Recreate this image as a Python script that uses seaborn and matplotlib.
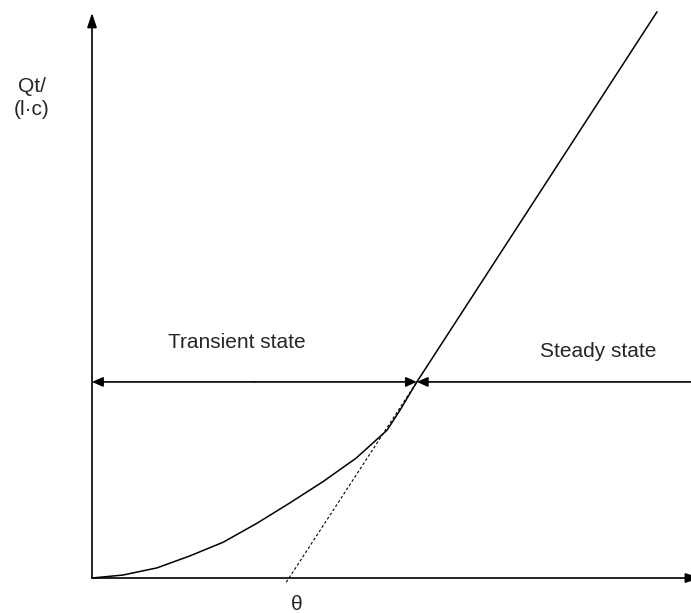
import matplotlib
matplotlib.use("Agg")
import matplotlib.pyplot as plt
import seaborn as sns
import pandas as pd

sns.set_theme(style="white")
plt.rcParams["font.family"] = ["Liberation Sans", "DejaVu Sans"]

# Cumulative permeated amount Qt/(l·c) versus time (time-lag method)
time_transient = [0, 0.52, 1.09, 1.64, 2.20, 2.77, 3.32, 3.88, 4.43, 4.95, 5.17, 5.45]
q_transient = [0, 0.05, 0.17, 0.37, 0.60, 0.92, 1.26, 1.62, 2.01, 2.48, 2.82, 3.29]

time_steady = [5.45, 9.48]
q_steady = [3.29, 9.50]

# Extrapolated steady-state asymptote crossing the time axis at the lag θ
time_tangent = [3.26, 5.45]
q_tangent = [-0.07, 3.29]

boundary_q = 3.29      # level separating transient and steady regimes
boundary_t = 5.45

labels = {"transient": "Transient state", "steady": "Steady state",
          "ylabel": "Qt/\n(l·c)", "lag": "θ"}

fig = plt.figure(figsize=(6.91, 6.13), dpi=100)
ax = fig.add_axes([0, 0, 1, 1])
ax.set_xlim(-1.5436, 10.050)
ax.set_ylim(-0.587, 9.698)
ax.axis("off")

df_tr = pd.DataFrame({"t": time_transient, "q": q_transient})
df_st = pd.DataFrame({"t": time_steady, "q": q_steady})
df_tg = pd.DataFrame({"t": time_tangent, "q": q_tangent})

sns.lineplot(data=df_tr, x="t", y="q", sort=False, color="black", lw=1.1, ax=ax)
sns.lineplot(data=df_st, x="t", y="q", sort=False, color="black", lw=1.1, ax=ax)
sns.lineplot(data=df_tg, x="t", y="q", sort=False, color="black", lw=0.8,
             linestyle=(0, (2.5, 2)), ax=ax)

big_head = "-|>,head_length=0.86,head_width=0.29"
small_head = "-|>,head_length=0.65,head_width=0.29"

def arrow(xy_from, xy_to, style, lw=1.2):
    ax.annotate("", xy=xy_to, xytext=xy_from, annotation_clip=False,
                arrowprops=dict(arrowstyle=style, mutation_scale=10, lw=lw,
                                color="black", shrinkA=0, shrinkB=0))

# axes with arrow heads
arrow((0, 0), (0, 9.48), big_head)
arrow((0, 0), (10.2, 0), big_head)

# regime boundary arrows
mid = boundary_t / 2
arrow((mid, boundary_q), (0, boundary_q), small_head)
arrow((mid, boundary_q), (boundary_t, boundary_q), small_head)
arrow((10.3, boundary_q), (boundary_t, boundary_q), small_head)

fs = 15
ax.text(2.43, 3.86, labels["transient"], ha="center", va="baseline", fontsize=fs)
ax.text(8.49, 3.71, labels["steady"], ha="center", va="baseline", fontsize=fs)
ax.text(-1.01, 8.05, labels["ylabel"], ha="center", va="center", fontsize=fs,
        linespacing=1.3)
ax.text(3.44, -0.44, labels["lag"], ha="center", va="center", fontsize=fs)

fig.savefig("out.png", dpi=100)
